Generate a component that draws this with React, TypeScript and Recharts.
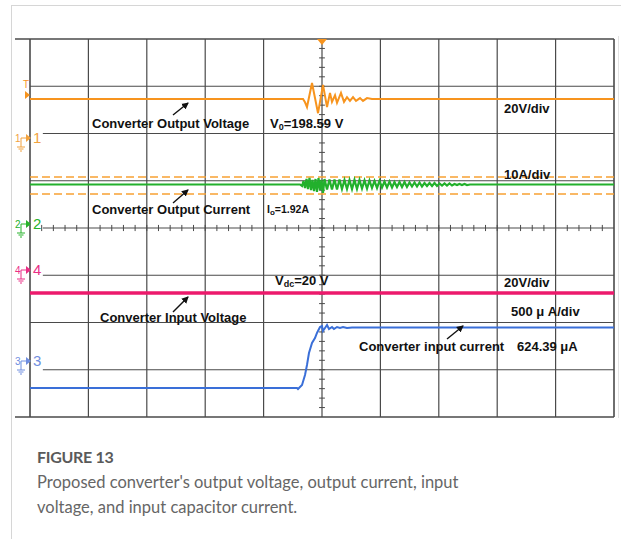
import React from 'react';
import { LineChart, Line, XAxis, YAxis, ReferenceLine, ReferenceDot } from 'recharts';

// Scope traces: time in horizontal divisions (0..10), level in vertical divisions (-4..4)
const outputVoltage: [number, number][] = [
  [0, 2.73], [4.675, 2.73], [4.709, 2.66], [4.743, 2.56], [4.829, 3.07], [4.932, 2.43],
  [5.017, 3.03], [5.086, 2.56], [5.137, 2.86], [5.171, 2.67], [5.223, 2.81], [5.257, 2.65],
  [5.325, 2.86], [5.377, 2.67], [5.428, 2.77], [5.479, 2.69], [5.531, 2.77], [5.582, 2.69],
  [5.651, 2.75], [5.702, 2.69], [5.771, 2.75], [5.856, 2.73], [10, 2.73],
];

const outputCurrent: [number, number][] = [
  [0, 0.921], [4.623, 0.921], [4.658, 0.889], [4.683, 0.995], [4.709, 0.847], [4.735, 1.037],
  [4.76, 0.825], [4.786, 1.058], [4.812, 0.804], [4.837, 1.016], [4.863, 0.783], [4.889, 1.037],
  [4.914, 0.762], [4.94, 1.058], [4.966, 0.804], [4.991, 1.016], [5.017, 0.741], [5.043, 1.037],
  [5.086, 0.815], [5.128, 1.026], [5.171, 0.815], [5.214, 1.026], [5.257, 0.815], [5.3, 1.026],
  [5.342, 0.825], [5.385, 1.016], [5.428, 0.825], [5.471, 1.016], [5.514, 0.825], [5.556, 1.016],
  [5.599, 0.825], [5.642, 1.016], [5.685, 0.836], [5.728, 1.005], [5.771, 0.836], [5.813, 1.005],
  [5.856, 0.847], [5.899, 0.995], [5.942, 0.847], [5.985, 0.995], [6.027, 0.857], [6.07, 0.984],
  [6.113, 0.857], [6.156, 0.984], [6.199, 0.857], [6.241, 0.974], [6.284, 0.868], [6.327, 0.974],
  [6.37, 0.868], [6.413, 0.974], [6.455, 0.868], [6.498, 0.963], [6.541, 0.878], [6.584, 0.963],
  [6.627, 0.878], [6.67, 0.963], [6.712, 0.878], [6.755, 0.952], [6.798, 0.889], [6.841, 0.952],
  [6.884, 0.889], [6.926, 0.952], [6.969, 0.889], [7.012, 0.942], [7.055, 0.899], [7.098, 0.942],
  [7.14, 0.899], [7.183, 0.942], [7.226, 0.899], [7.269, 0.931], [7.312, 0.91], [7.354, 0.931],
  [7.397, 0.91], [7.44, 0.931], [7.483, 0.91], [7.534, 0.921], [10, 0.921],
];

const inputVoltage: [number, number][] = [
  [0, -1.376], [10, -1.376],
];

const inputCurrent: [number, number][] = [
  [0, -3.386], [4.572, -3.386], [4.589, -3.407], [4.658, -3.323], [4.709, -3.111], [4.743, -2.899],
  [4.777, -2.646], [4.829, -2.434], [4.88, -2.328], [4.914, -2.222], [4.966, -2.095], [5.0, -2.074],
  [5.017, -2.18], [5.086, -2.053], [5.12, -2.138], [5.171, -2.095], [5.205, -2.138], [5.257, -2.095],
  [5.308, -2.116], [5.36, -2.095], [5.428, -2.116], [5.514, -2.106], [10, -2.106],
];

// Cursor levels (orange dashed) around the output current
const cursorLevels = [1.079, 0.72];

const timeDivs = [0, 1, 2, 3, 4, 5, 6, 7, 8, 9, 10];
const levelDivs = [4, 3, 2, 1, 0, -1, -2, -3, -4];

const toPoints = (trace: [number, number][]) => trace.map(([t, v]) => ({ t, v }));

const GRID = '#4a4a4a';
const LABEL_FONT = '"Liberation Sans", Arial, sans-serif';

const channels = [
  { n: '1', y: 141, color: '#f2a23e' },
  { n: '2', y: 227, color: '#27b22b' },
  { n: '4', y: 273, color: '#ea2f86' },
  { n: '3', y: 364, color: '#6f8ee0' },
];

const ChannelMarker = ({ n, y, color }: { n: string; y: number; color: string }) => (
  <g stroke={color} fill={color}>
    <text x={15} y={y + 1} fontSize={10} fontFamily={LABEL_FONT} stroke="none">{n}</text>
    <line x1={21} y1={y - 3} x2={21} y2={y + 6} strokeWidth={1} />
    <line x1={21} y1={y - 3} x2={26} y2={y - 3} strokeWidth={1} />
    <line x1={17} y1={y + 6} x2={25} y2={y + 6} strokeWidth={1} />
    <line x1={18.5} y1={y + 8} x2={23.5} y2={y + 8} strokeWidth={1} />
    <line x1={20} y1={y + 10} x2={22} y2={y + 10} strokeWidth={1} />
    <path d={`M26,${y - 7} L31,${y - 3} L26,${y + 1} Z`} stroke="none" />
    <text x={33} y={y + 2} fontSize={15} fontFamily={LABEL_FONT} stroke="none">{n}</text>
  </g>
);

const Arrow = ({ x1, y1, x2, y2 }: { x1: number; y1: number; x2: number; y2: number }) => (
  <line x1={x1} y1={y1} x2={x2} y2={y2} stroke="#111" strokeWidth={1.4} markerEnd="url(#arrowHead)" />
);

const Label = ({ x, y, size = 13, children }: { x: number; y: number; size?: number; children: React.ReactNode }) => (
  <text x={x} y={y} fontSize={size} fontWeight="bold" fontFamily={LABEL_FONT} fill="#111">{children}</text>
);

const TriggerMark = (props: any) => {
  const { cx, cy } = props;
  return <path d={`M${cx - 5},${cy} L${cx + 5},${cy} L${cx},${cy + 6} Z`} fill="#f7941e" />;
};

export default function App() {
  const minorV = Array.from({ length: 39 }, (_, i) => -4 + (i + 1) * 0.2);
  const minorT = Array.from({ length: 49 }, (_, i) => (i + 1) * 0.2);
  // lines that start after the channel markers on the left
  const shortStart: Record<number, number> = { 2: 0.22, 0: 0.22, [-1]: 0.22, [-3]: 0.22, 4: -0.257, [-4]: -0.257 };

  return (
    <div style={{ position: 'absolute', left: 0, top: 0, width: 621, height: 539, background: '#fff' }}>
      <div style={{ position: 'absolute', left: 0, top: 0 }}>
        <LineChart width={621} height={430} margin={{ top: 39, right: 7, bottom: 13, left: 30 }}>
          <XAxis type="number" dataKey="t" domain={[0, 10]} hide allowDataOverflow />
          <YAxis type="number" dataKey="v" domain={[-4, 4]} hide allowDataOverflow />

          {levelDivs.map((lv) => (
            <ReferenceLine
              key={`h${lv}`}
              segment={[{ x: shortStart[lv] ?? 0, y: lv }, { x: 10, y: lv }]}
              stroke={GRID}
              strokeWidth={lv === 4 || lv === -4 ? 1.6 : 1.2}
              ifOverflow="visible"
            />
          ))}
          {timeDivs.map((td) => (
            <ReferenceLine
              key={`v${td}`}
              segment={[{ x: td, y: -4 }, { x: td, y: 4 }]}
              stroke={GRID}
              strokeWidth={td === 0 || td === 10 ? 1.6 : 1.2}
              ifOverflow="visible"
            />
          ))}
          {minorV.map((lv) => (
            <ReferenceLine key={`mv${lv}`} segment={[{ x: 4.95, y: lv }, { x: 5.05, y: lv }]} stroke={GRID} strokeWidth={1} ifOverflow="visible" />
          ))}
          {minorT.map((td) => (
            <ReferenceLine key={`mt${td}`} segment={[{ x: td, y: -0.065 }, { x: td, y: 0.065 }]} stroke={GRID} strokeWidth={1} ifOverflow="visible" />
          ))}

          {cursorLevels.map((lv) => (
            <ReferenceLine key={`c${lv}`} y={lv} stroke="#f7a133" strokeWidth={1.6} strokeDasharray="8 4" ifOverflow="visible" />
          ))}

          <Line data={toPoints(inputVoltage)} dataKey="v" type="linear" stroke="#ec1a6c" strokeWidth={3.5} dot={false} isAnimationActive={false} />
          <Line data={toPoints(inputCurrent)} dataKey="v" type="linear" stroke="#3a6fd8" strokeWidth={2} dot={false} isAnimationActive={false} />
          <Line data={toPoints(outputCurrent)} dataKey="v" type="linear" stroke="#22b02c" strokeWidth={2.2} dot={false} isAnimationActive={false} />
          <Line data={toPoints(outputVoltage)} dataKey="v" type="linear" stroke="#f7941e" strokeWidth={2} dot={false} isAnimationActive={false} />

          <ReferenceDot x={5} y={4} r={5} shape={TriggerMark} ifOverflow="visible" />
        </LineChart>
      </div>

      <svg width={621} height={539} style={{ position: 'absolute', left: 0, top: 0, pointerEvents: 'none' }}>
        <defs>
          <marker id="arrowHead" markerWidth="8" markerHeight="8" refX="6" refY="4" orient="auto" markerUnits="userSpaceOnUse">
            <path d="M0,0.5 L7,4 L0,7.5 Z" fill="#111" />
          </marker>
        </defs>

        {/* card border */}
        <line x1={11} y1={5.5} x2={621} y2={5.5} stroke="#d6d6d6" strokeWidth={1} />
        <line x1={11.5} y1={5.5} x2={11.5} y2={539} stroke="#d6d6d6" strokeWidth={1} />
        <line x1={618.5} y1={36} x2={618.5} y2={418} stroke="#e2e2e2" strokeWidth={1} />

        {/* trigger level marker */}
        <g fill="#f7941e">
          <text x={23} y={88} fontSize={10} fontFamily={LABEL_FONT}>T</text>
          <path d="M25,91 L30,95 L25,99 Z" />
        </g>
        {channels.map((c) => <ChannelMarker key={c.n} {...c} />)}

        <Arrow x1={173} y1={115} x2={188} y2={103} />
        <Arrow x1={173} y1={203} x2={188} y2={190} />
        <Arrow x1={173} y1={312} x2={188} y2={297} />
        <Arrow x1={447} y1={339} x2={463} y2={326} />

        <Label x={92} y={128}>Converter Output Voltage</Label>
        <Label x={270} y={128}>V<tspan fontSize={9} dy={1.5}>0</tspan><tspan dy={-1.5}>=198.59 V</tspan></Label>
        <Label x={504} y={113}>20V/div</Label>

        <Label x={92} y={214}>Converter Output Current</Label>
        <Label x={267} y={213} size={10.5}>I<tspan fontSize={8} dy={1.5}>o</tspan><tspan dy={-1.5}>=1.92A</tspan></Label>
        <Label x={504} y={179}>10A/div</Label>

        <Label x={275} y={285}>V<tspan fontSize={9} dy={1.5}>dc</tspan><tspan dy={-1.5}>=20 V</tspan></Label>
        <Label x={504} y={287}>20V/div</Label>
        <Label x={100} y={322}>Converter Input Voltage</Label>

        <Label x={511} y={316}>500 μ A/div</Label>
        <Label x={359} y={351}>Converter input current</Label>
        <Label x={517} y={351}>624.39 μA</Label>
      </svg>

      <div style={{ position: 'absolute', left: 37, top: 444, fontFamily: 'Lato, "Noto Sans", sans-serif', color: '#5a5a5a' }}>
        <div style={{ fontSize: 16, fontWeight: 'bold', lineHeight: '26px', letterSpacing: -0.3 }}>FIGURE 13</div>
        <div style={{ fontSize: 16.5, lineHeight: '25px', color: '#666' }}>
          Proposed converter's output voltage, output current, input
          <br />
          voltage, and input capacitor current.
        </div>
      </div>
    </div>
  );
}
